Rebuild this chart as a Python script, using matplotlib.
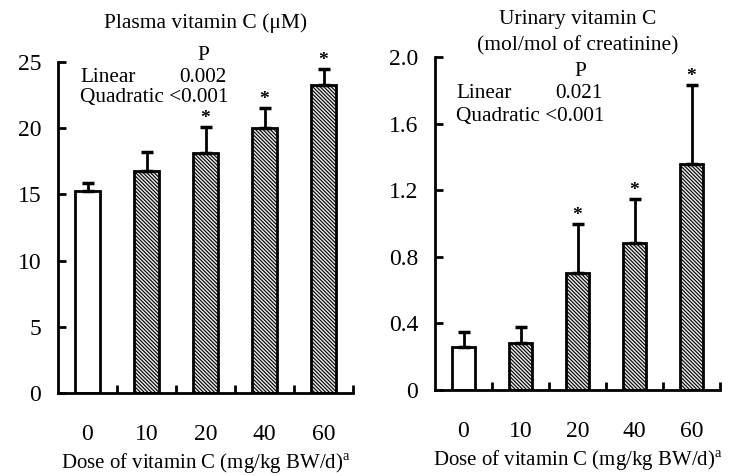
import numpy as np
import matplotlib.pyplot as plt

plt.rcParams['font.family'] = ['Liberation Serif', 'DejaVu Serif']
plt.rcParams['hatch.linewidth'] = 0.8
plt.rcParams['hatch.color'] = '#2a2a2a'

doses = ['0', '10', '20', '40', '60']

# Plasma vitamin C (uM)
plasma_mean = [15.25, 16.8, 18.1, 20.0, 23.25]
plasma_sd = [0.6, 1.4, 2.0, 1.5, 1.2]
plasma_sig = [False, False, True, True, True]

# Urinary vitamin C (mol/mol creatinine)
urine_mean = [0.26, 0.28, 0.70, 0.88, 1.36]
urine_sd = [0.09, 0.10, 0.30, 0.27, 0.47]
urine_sig = [False, False, True, True, True]

fig = plt.figure(figsize=(7.34, 4.76), dpi=100)
W, H = 734, 476


def panel(rect, means, sds, sig, ylim, yticks, yticklabels, title, title_y):
    ax = fig.add_axes([rect[0] / W, 1 - rect[3] / H, (rect[2] - rect[0]) / W, (rect[3] - rect[1]) / H])
    x = np.arange(len(means))
    colors = ['white'] + ['#e6e6e6'] * (len(means) - 1)
    hatches = [''] + ['\\' * 9] * (len(means) - 1)
    bars = ax.bar(x, means, width=0.41, color=colors, edgecolor='black', linewidth=2.0, zorder=2)
    for b, h in zip(bars, hatches):
        b.set_hatch(h)
    ax.errorbar(x, means, yerr=[np.zeros(len(sds)), sds], fmt='none', ecolor='black',
                elinewidth=2.0, capsize=4, capthick=2.5, zorder=3)
    for xi, m, s, g in zip(x, means, sds, sig):
        if g:
            ax.text(xi, m + s, '*', ha='center', va='bottom', fontsize=14, fontweight='bold')
    ax.set_xlim(-0.5, len(means) - 0.5)
    ax.set_ylim(*ylim)
    for sp in ['top', 'right']:
        ax.spines[sp].set_visible(False)
    for sp in ['left', 'bottom']:
        ax.spines[sp].set_linewidth(2.0)
    ax.set_yticks(yticks)
    ax.set_yticklabels(yticklabels)
    ax.tick_params(axis='y', direction='in', length=6, width=2.0, labelsize=17, pad=12)
    ax.set_xticks(x)
    ax.set_xticklabels(doses)
    ax.tick_params(axis='x', which='major', length=0, labelsize=17, pad=22)
    ax.set_xticks(np.arange(len(means)) + 0.5, minor=True)
    ax.tick_params(axis='x', which='minor', direction='in', length=6, width=2.0)
    ax.set_xlabel('Dose of vitamin C (mg/kg BW/d)$^{\\mathregular{a}}$', fontsize=15, labelpad=5)
    cx = (rect[0] + rect[2]) / 2
    fig.text(cx / W, 1 - title_y / H, title, ha='center', va='center', fontsize=15.5, linespacing=1.5)
    return ax


axL = panel((58, 62, 353, 393), plasma_mean, plasma_sd, plasma_sig, (0, 25),
            [0, 5, 10, 15, 20, 25], ['0', '5', '10', '15', '20', '25'],
            'Plasma vitamin C (\u03bcM)', 23)
axR = panel((435, 57, 720, 390), urine_mean, urine_sd, urine_sig, (0, 2.0),
            [0, 0.4, 0.8, 1.2, 1.6, 2.0], ['0', '0.4', '0.8', '1.2', '1.6', '2.0'],
            'Urinary vitamin C\n(mol/mol of creatinine)', 33)

fs = 15.3
fig.text(203 / W, 1 - 55 / H, 'P', ha='center', va='center', fontsize=fs)
fig.text(80 / W, 1 - 77 / H, 'Linear', ha='left', va='center', fontsize=fs)
fig.text(203 / W, 1 - 77 / H, '0.002', ha='center', va='center', fontsize=fs)
fig.text(80 / W, 1 - 98 / H, 'Quadratic <0.001', ha='left', va='center', fontsize=fs)

fig.text(580 / W, 1 - 72 / H, 'P', ha='center', va='center', fontsize=fs)
fig.text(456 / W, 1 - 94 / H, 'Linear', ha='left', va='center', fontsize=fs)
fig.text(579 / W, 1 - 94 / H, '0.021', ha='center', va='center', fontsize=fs)
fig.text(456 / W, 1 - 116 / H, 'Quadratic <0.001', ha='left', va='center', fontsize=fs)

fig.savefig('out.png', dpi=100)
